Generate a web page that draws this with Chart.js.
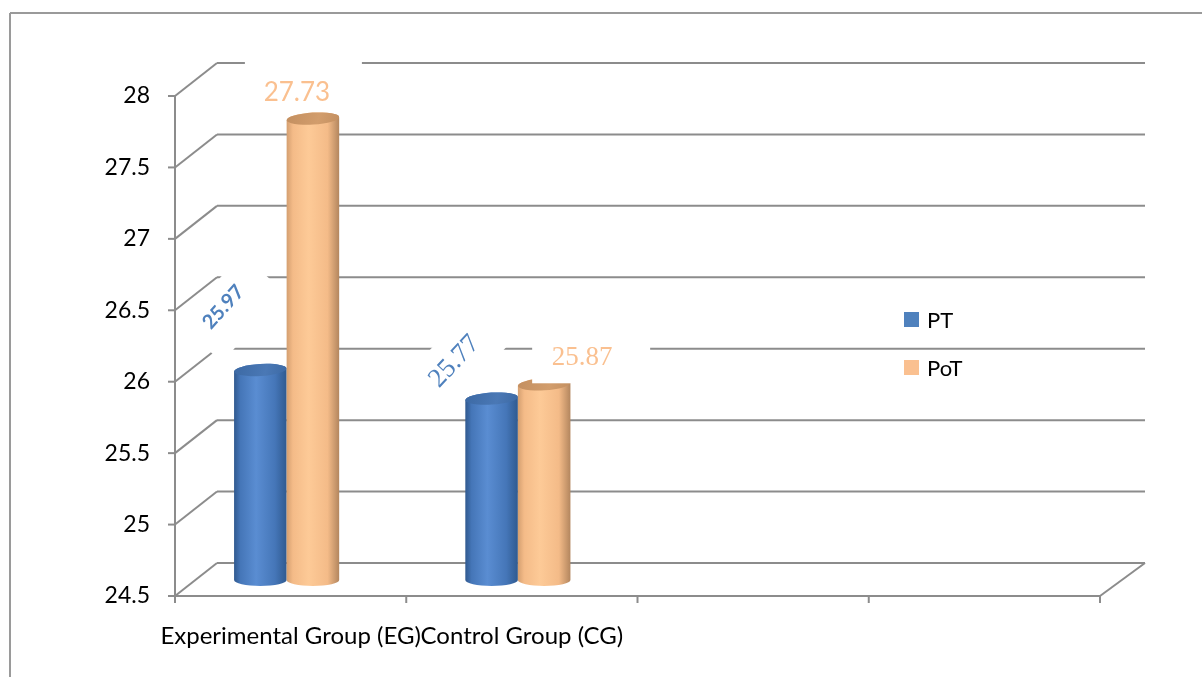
<!DOCTYPE html>
<html><head><meta charset="utf-8">
<script src="https://cdn.jsdelivr.net/npm/chart.js@4.4.1/dist/chart.umd.min.js"></script>
<style>html,body{margin:0;padding:0;background:#fff;overflow:hidden}#wrap{width:1202px;height:677px;position:relative}</style>
</head><body><div id="wrap"><canvas id="c" width="1202" height="677"></canvas></div>
<script>
const categories = ["Experimental Group (EG)", "Control Group (CG)", "", ""];
const seriesNames = ["PT", "PoT"];
const ptValues = [25.97, 25.77, null, null];
const potValues = [27.73, 25.87, null, null];
const yTicks = [24.5, 25, 25.5, 26, 26.5, 27, 27.5, 28];

const seriesColors = ["#4F81BD", "#FAC090"];
const cylShades = [
  {edgeL:"#30598f", mid:"#4576b8", hi:"#5a8dd2", edgeR:"#2f5a90", top:"#3c69a4", topHi:"#4a78b5"},
  {edgeL:"#d49f70", mid:"#f4bb88", hi:"#fdca97", edgeR:"#b3865e", top:"#c38f60", topHi:"#d29d6c"}
];
const GRID = "#8c8c8c";
const BACK = {dxL:42, dxR:45, dy:-33};
const BAR3D = {dx:-4, dy:-16, ry:6, tilt:-0.06};
const SERIF = "'Liberation Serif', 'DejaVu Serif', serif";
const labelStyles = {
  "1-0": {dx:-20, dy:-42, rot:0,   font:"26px Lato",         box:[-52,65,-35,19]},
  "0-0": {dx:-41, dy:-79, rot:-48, font:"bold 20px Lato",    box:[-42,52,-22,36]},
  "0-1": {dx:-41, dy:-53, rot:-47, font:"27px " + SERIF,     box:[-45,50,-26,28]},
  "1-1": {dx:34,  dy:-42, rot:0,   font:"27px " + SERIF,     box:[-50,68,-30,25]}
};
const legendPos = {x:904, y:312, gap:48, size:15};

function line(ctx, x1, y1, x2, y2){ctx.beginPath();ctx.moveTo(x1,y1);ctx.lineTo(x2,y2);ctx.stroke();}

const framePlugin = {
  id:"frame3d",
  beforeDatasetsDraw(chart){
    const ctx = chart.ctx, ca = chart.chartArea, ys = chart.scales.y, xs = chart.scales.x;
    ctx.save();
    ctx.strokeStyle = "#9a9a9a"; ctx.lineWidth = 2;
    line(ctx, 10, 13, 1202, 13); line(ctx, 10, 13, 10, 677);
    ctx.strokeStyle = GRID; ctx.lineWidth = 2; ctx.lineCap = "butt";
    ys.ticks.forEach(t => {
      const y = ys.getPixelForValue(t.value);
      line(ctx, ca.left - 7, y, ca.left, y);
      line(ctx, ca.left, y, ca.left + BACK.dxL, y + BACK.dy);
      line(ctx, ca.left + BACK.dxL, y + BACK.dy, ca.right + BACK.dxR, y + BACK.dy);
    });
    line(ctx, ca.left, ca.top - 1, ca.left, ca.bottom + 7);
    line(ctx, ca.left, ca.bottom, ca.right, ca.bottom);
    line(ctx, ca.right, ca.bottom, ca.right + BACK.dxR, ca.bottom + BACK.dy);
    const n = chart.data.labels.length;
    for (let i = 0; i <= n; i++) {
      let x;
      if (i === 0) x = ca.left; else if (i === n) x = ca.right;
      else x = (xs.getPixelForValue(i - 1) + xs.getPixelForValue(i)) / 2;
      line(ctx, x, ca.bottom, x, ca.bottom + 7);
    }
    ctx.restore();
  }
};

function cylinder(ctx, x0, x1, yTop, yBot, s){
  const cx = (x0 + x1) / 2, rx = (x1 - x0) / 2, ry = BAR3D.ry, tl = BAR3D.tilt;
  const g = ctx.createLinearGradient(x0, 0, x1, 0);
  g.addColorStop(0, s.edgeL); g.addColorStop(0.12, s.mid); g.addColorStop(0.42, s.hi);
  g.addColorStop(0.78, s.mid); g.addColorStop(1, s.edgeR);
  ctx.beginPath();
  ctx.moveTo(x0, yTop); ctx.lineTo(x0, yBot);
  ctx.ellipse(cx, yBot, rx, ry, 0, Math.PI, 0, true);
  ctx.lineTo(x1, yTop);
  ctx.ellipse(cx, yTop, rx, ry, tl, 0, Math.PI, true);
  ctx.closePath();
  ctx.fillStyle = g; ctx.fill();
  const gt = ctx.createLinearGradient(x0, yTop - ry, x1, yTop + ry);
  gt.addColorStop(0, s.top); gt.addColorStop(0.6, s.topHi); gt.addColorStop(1, s.top);
  ctx.beginPath(); ctx.ellipse(cx, yTop, rx, ry, tl, 0, Math.PI * 2);
  ctx.fillStyle = gt; ctx.fill();
}

const cylPlugin = {
  id:"cyl3d",
  afterDatasetsDraw(chart){
    const ctx = chart.ctx, ys = chart.scales.y;
    const basePx = ys.getPixelForValue(ys.min);
    ctx.save();
    chart.data.datasets.forEach((ds, d) => {
      chart.getDatasetMeta(d).data.forEach((el, i) => {
        if (ds.data[i] == null) return;
        const p = el.getProps(["x","y","width"], true);
        const x0 = p.x - p.width/2 + BAR3D.dx, x1 = p.x + p.width/2 + BAR3D.dx;
        cylinder(ctx, x0, x1, p.y + BAR3D.dy, basePx + BAR3D.dy, cylShades[d]);
      });
    });
    chart.data.datasets.forEach((ds, d) => {
      chart.getDatasetMeta(d).data.forEach((el, i) => {
        if (ds.data[i] == null) return;
        const st = labelStyles[d + "-" + i]; if (!st) return;
        const p = el.getProps(["x","y"], true);
        ctx.save();
        ctx.translate(p.x + st.dx, p.y + st.dy);
        ctx.rotate(st.rot * Math.PI / 180);
        ctx.fillStyle = "#ffffff";
        ctx.fillRect(st.box[0], st.box[2], st.box[1] - st.box[0], st.box[3] - st.box[2]);
        ctx.fillStyle = seriesColors[d];
        ctx.font = st.font; ctx.textAlign = "center"; ctx.textBaseline = "middle";
        ctx.fillText(ds.data[i].toFixed(2), 0, 0);
        ctx.restore();
      });
    });
    ctx.font = "22px Lato"; ctx.textAlign = "left"; ctx.textBaseline = "middle";
    chart.data.datasets.forEach((ds, d) => {
      const y = legendPos.y + d * legendPos.gap;
      ctx.fillStyle = seriesColors[d];
      ctx.fillRect(legendPos.x, y, legendPos.size, legendPos.size);
      ctx.fillStyle = "#000";
      ctx.fillText(ds.label, legendPos.x + 23, y + legendPos.size/2 + 1);
    });
    ctx.restore();
  }
};

function build(){
  new Chart(document.getElementById("c"), {
    type: "bar",
    data: {
      labels: categories,
      datasets: [
        {label: seriesNames[0], data: ptValues, backgroundColor: "rgba(0,0,0,0)", borderWidth: 0, categoryPercentage: 0.4545, barPercentage: 1},
        {label: seriesNames[1], data: potValues, backgroundColor: "rgba(0,0,0,0)", borderWidth: 0, categoryPercentage: 0.4545, barPercentage: 1}
      ]
    },
    options: {
      responsive: false, animation: false, devicePixelRatio: 1,
      layout: {padding: {left: 0, right: 102, top: 96, bottom: 0}},
      plugins: {legend: {display: false}, tooltip: {enabled: false}},
      scales: {
        x: {
          grid: {display: false, drawTicks: false}, border: {display: false},
          ticks: {autoSkip: false, maxRotation: 0, minRotation: 0, padding: 26, color: "#000", font: {family: "Lato", size: 24}},
          afterFit(s){ s.height = 81; }
        },
        y: {
          min: yTicks[0], max: yTicks[yTicks.length - 1],
          grid: {display: false, drawTicks: false}, border: {display: false},
          afterBuildTicks(s){ s.ticks = yTicks.map(v => ({value: v})); },
          ticks: {padding: 25, color: "#000", font: {family: "Lato", size: 23}, callback: v => String(v)},
          afterFit(s){ s.width = 175; }
        }
      }
    },
    plugins: [framePlugin, cylPlugin]
  });
}
let built = false;
function go(){ if (!built) { built = true; build(); } }
if (document.fonts && document.fonts.load) {
  Promise.all([
    document.fonts.load("27px 'Liberation Serif'"),
    document.fonts.load("24px Lato"),
    document.fonts.load("bold 20px Lato")
  ]).then(go, go);
  setTimeout(go, 800);
} else { go(); }
</script></body></html>
